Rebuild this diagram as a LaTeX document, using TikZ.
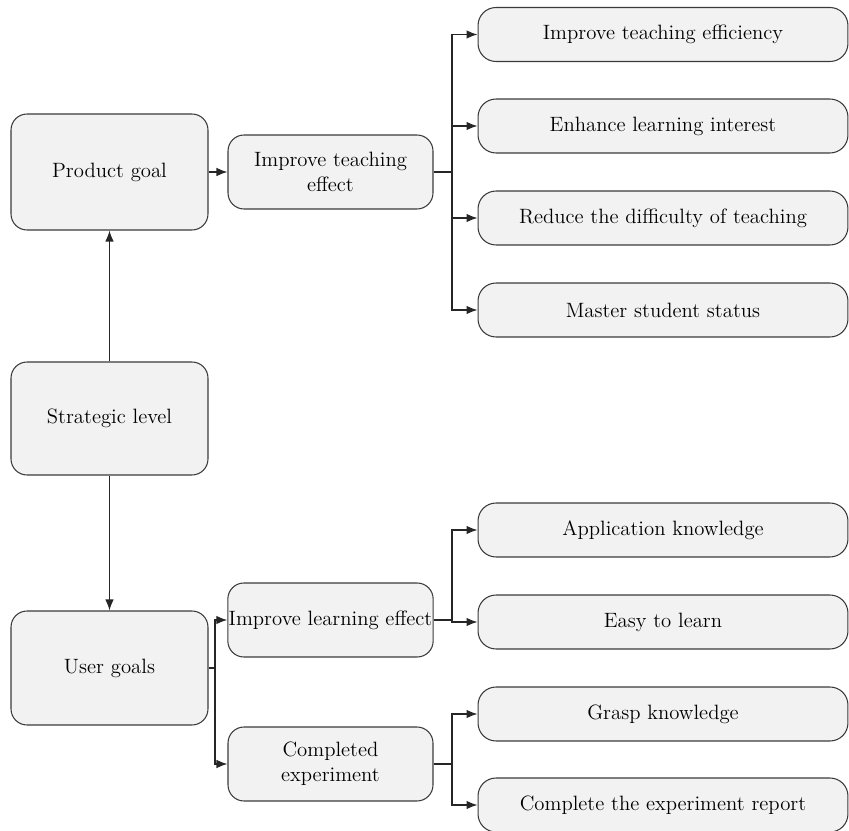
\documentclass[tikz,border=0pt]{standalone}
\usepackage{xcolor}
\usepackage{tikz}
\usetikzlibrary{arrows.meta}
\usetikzlibrary{positioning}

\definecolor{boxfill}{HTML}{F2F2F2}
\definecolor{boxline}{HTML}{3A3A3A}

\begin{document}
\begin{tikzpicture}[x=0.02cm, y=-0.02cm,
  every node/.style={font=\fontsize{11.8}{14}\selectfont},
  goalbox/.style={rectangle, rounded corners=0.32cm, draw=boxline, fill=boxfill, line width=0.6pt, minimum width=3.94cm, align=center},
  midbox/.style={rectangle, rounded corners=0.32cm, draw=boxline, fill=boxfill, line width=0.6pt, minimum width=4.1cm, minimum height=1.48cm, inner sep=0.5pt, align=center},
  leafbox/.style={rectangle, rounded corners=0.36cm, draw=boxline, fill=boxfill, line width=0.6pt, minimum width=7.4cm, minimum height=1.08cm, align=center},
  link/.style={draw=black!85, line width=0.7pt},
  arrowlink/.style={link, -{Latex[length=0.22cm, width=0.17cm]}}]
\useasboundingbox (0,0) rectangle (849,831);

% left column
\node [goalbox, minimum height=2.32cm] (product) at (109.5,172) {Product goal};
\node [goalbox, minimum height=2.26cm] (strategic) at (109.5,418.5) {Strategic level};
\node [goalbox, minimum height=2.28cm] (user) at (109.5,668) {User goals};

% middle column
\node [midbox] (teach) at (330.5,172) {Improve teaching\\effect};
\node [midbox] (learn) at (330.5,620) {Improve learning effect};
\node [midbox] (exper) at (330.5,764) {Completed\\experiment};

% right column
\node [leafbox] (eff) at (663,34.5) {Improve teaching efficiency};
\node [leafbox] (interest) at (663,126) {Enhance learning interest};
\node [leafbox] (diff) at (663,218) {Reduce the difficulty of teaching};
\node [leafbox] (status) at (663,310) {Master student status};
\node [leafbox] (apply) at (663,530) {Application knowledge};
\node [leafbox] (easy) at (663,622) {Easy to learn};
\node [leafbox] (grasp) at (663,714) {Grasp knowledge};
\node [leafbox] (report) at (663,805) {Complete the experiment report};

% forks
\coordinate (tfork) at (452,172);
\coordinate (lfork) at (452,620);
\coordinate (efork) at (452,764);
\coordinate (ufork) at (215,668);

\draw [arrowlink] (strategic) to (product);
\draw [arrowlink] (strategic) to (user);
\draw [arrowlink] (product) to (teach);

\draw [link] (teach.east) -- (tfork);
\foreach \t in {eff, interest, diff, status}
  \draw [arrowlink] (tfork) |- (\t.west);

\draw [link] (user.east) -- (ufork);
\draw [arrowlink] (ufork) |- (learn.west);
\draw [arrowlink] (ufork) |- (exper.west);

\draw [link] (learn.east) -- (lfork);
\draw [arrowlink] (lfork) |- (apply.west);
\draw [arrowlink] (lfork) |- (easy.west);

\draw [link] (exper.east) -- (efork);
\draw [arrowlink] (efork) |- (grasp.west);
\draw [arrowlink] (efork) |- (report.west);
\end{tikzpicture}
\end{document}
